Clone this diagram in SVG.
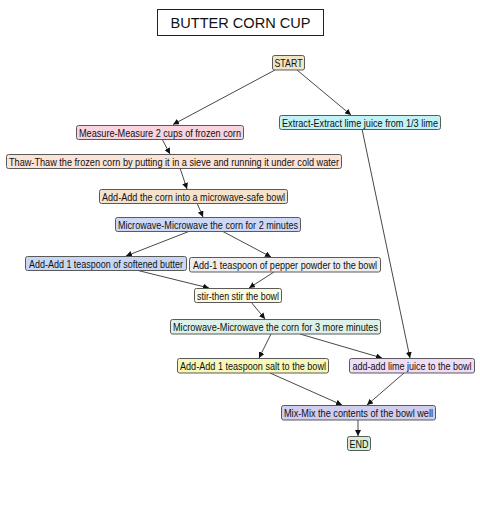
<svg xmlns="http://www.w3.org/2000/svg" width="480" height="509" viewBox="0 0 480 509">
<defs>
<style>
.n rect{stroke:#5a5a5a;stroke-width:1}
.n text{font-family:"Liberation Sans",Arial,sans-serif;font-size:11.5px;fill:#111;text-anchor:middle}
.e line{stroke:#333;stroke-width:0.9;marker-end:url(#ah)}
</style>
<marker id="ah" viewBox="0 0 10 10" refX="10" refY="5" markerWidth="6" markerHeight="6" markerUnits="userSpaceOnUse" orient="auto">
<path d="M0,0 L10,5 L0,10 z" fill="#111"/>
</marker>
</defs>
<rect width="480" height="509" fill="#fff"/>
<g id="title">
<rect x="157.5" y="9.5" width="166" height="26" fill="#fff" stroke="#222" stroke-width="1"/>
<text x="240.5" y="28" font-family="'Liberation Sans',Arial,sans-serif" font-size="15" text-anchor="middle" textLength="140" lengthAdjust="spacingAndGlyphs" fill="#111">BUTTER CORN CUP</text>
</g>
<g id="edges" class="e">
<line x1="275" y1="70" x2="173" y2="124.5"/>
<line x1="297" y1="70" x2="351" y2="115"/>
<line x1="162" y1="139" x2="170" y2="154"/>
<line x1="180" y1="168" x2="187" y2="189"/>
<line x1="197" y1="203" x2="203" y2="217"/>
<line x1="190" y1="231" x2="126" y2="256"/>
<line x1="222" y1="231" x2="271" y2="257"/>
<line x1="136" y1="270" x2="209" y2="288"/>
<line x1="274" y1="272" x2="249" y2="288"/>
<line x1="251" y1="302" x2="265" y2="319"/>
<line x1="271" y1="334" x2="259" y2="358"/>
<line x1="300" y1="334" x2="382" y2="358"/>
<line x1="362" y1="129" x2="410" y2="358"/>
<line x1="270" y1="373" x2="342" y2="405"/>
<line x1="404" y1="373" x2="367" y2="405"/>
<line x1="358" y1="420" x2="358" y2="436"/>
</g>
<g id="start" class="n"><rect x="272.5" y="55.5" width="32" height="14.5" rx="2" fill="#efe6c6"/><text x="288.5" y="67" textLength="28" lengthAdjust="spacingAndGlyphs">START</text></g>
<g id="extract" class="n"><rect x="279.5" y="115.5" width="161" height="14" rx="2" fill="#c0f2f6"/><text x="360" y="126.8" textLength="156" lengthAdjust="spacingAndGlyphs">Extract-Extract lime juice from 1/3 lime</text></g>
<g id="measure" class="n"><rect x="76.5" y="125.5" width="167" height="14" rx="2" fill="#f9d4de"/><text x="160" y="136.8" textLength="162" lengthAdjust="spacingAndGlyphs">Measure-Measure 2 cups of frozen corn</text></g>
<g id="thaw" class="n"><rect x="6.5" y="154.5" width="335" height="14" rx="2" fill="#fbe3d8"/><text x="174" y="165.8" textLength="330" lengthAdjust="spacingAndGlyphs">Thaw-Thaw the frozen corn by putting it in a sieve and running it under cold water</text></g>
<g id="addcorn" class="n"><rect x="99.5" y="189.5" width="188" height="14" rx="2" fill="#f4e2cc"/><text x="193.5" y="200.8" textLength="183" lengthAdjust="spacingAndGlyphs">Add-Add the corn into a microwave-safe bowl</text></g>
<g id="micro2" class="n"><rect x="115.5" y="217.5" width="185" height="14" rx="2" fill="#cdd8f6"/><text x="208" y="228.8" textLength="180" lengthAdjust="spacingAndGlyphs">Microwave-Microwave the corn for 2 minutes</text></g>
<g id="butter" class="n"><rect x="25.5" y="256.5" width="161" height="14" rx="2" fill="#c8d8f4"/><text x="106" y="267.8" textLength="154" lengthAdjust="spacingAndGlyphs">Add-Add 1 teaspoon of softened butter</text></g>
<g id="pepper" class="n"><rect x="189.5" y="257.5" width="191" height="14.5" rx="2" fill="#eeeeee"/><text x="285" y="269" textLength="184" lengthAdjust="spacingAndGlyphs">Add-1 teaspoon of pepper powder to the bowl</text></g>
<g id="stir" class="n"><rect x="194.5" y="288.5" width="87" height="14" rx="2" fill="#fafae0"/><text x="238" y="299.8" textLength="82" lengthAdjust="spacingAndGlyphs">stir-then stir the bowl</text></g>
<g id="micro3" class="n"><rect x="170.5" y="319.5" width="210" height="14.5" rx="2" fill="#dcf2e8"/><text x="275.5" y="331" textLength="205" lengthAdjust="spacingAndGlyphs">Microwave-Microwave the corn for 3 more minutes</text></g>
<g id="salt" class="n"><rect x="177.5" y="358.5" width="151" height="14.5" rx="2" fill="#f5f8b8"/><text x="253" y="370" textLength="146" lengthAdjust="spacingAndGlyphs">Add-Add 1 teaspoon salt to the bowl</text></g>
<g id="lime" class="n"><rect x="349.5" y="358.5" width="125" height="14.5" rx="2" fill="#efdcf6"/><text x="412" y="370" textLength="119" lengthAdjust="spacingAndGlyphs">add-add lime juice to the bowl</text></g>
<g id="mix" class="n"><rect x="281.5" y="405.5" width="154" height="14.5" rx="2" fill="#d0cdee"/><text x="358.5" y="417" textLength="149" lengthAdjust="spacingAndGlyphs">Mix-Mix the contents of the bowl well</text></g>
<g id="end" class="n"><rect x="347.5" y="436.5" width="23" height="14" rx="2" fill="#d0f0d8"/><text x="359" y="447.8" textLength="19" lengthAdjust="spacingAndGlyphs">END</text></g>
</svg>
